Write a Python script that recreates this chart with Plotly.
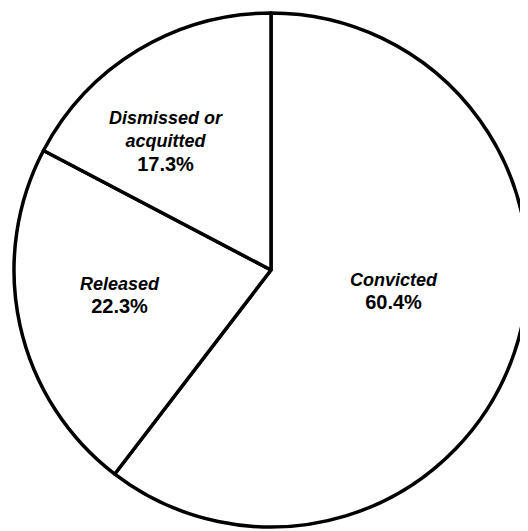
import plotly.graph_objects as go

# Case outcomes (percent)
labels = ["Convicted", "Released", "Dismissed or<br>acquitted"]
values = [60.4, 22.3, 17.3]

# label placement in paper coords
label_x = [0.731, 0.212, 0.299]
label_y = [0.466, 0.459, 0.748]

W, H = 528, 531
cx, cy, r = 263, 269, 257  # pixel centre (from bottom) and radius

fig = go.Figure(go.Pie(
    labels=labels,
    values=values,
    sort=False,
    direction="clockwise",
    rotation=0,
    textinfo="none",
    hoverinfo="label+percent",
    marker=dict(colors=["white"] * 3, line=dict(color="black", width=3.5)),
    domain=dict(x=[(cx - r) / W, (cx + r) / W], y=[(cy - r) / H, (cy + r) / H]),
    showlegend=False,
))

for lab, val, x, y in zip(labels, values, label_x, label_y):
    fig.add_annotation(
        x=x, y=y, xref="paper", yref="paper",
        xanchor="center", yanchor="middle",
        text=f"<b><i>{lab}</i><br><span style='font-size:20px'>{val}%</span></b>",
        showarrow=False, align="center",
        font=dict(family="Liberation Sans, Arial, sans-serif", size=18, color="black"),
    )

fig.update_layout(
    width=W, height=H,
    margin=dict(l=0, r=0, t=0, b=0),
    paper_bgcolor="white", plot_bgcolor="white",
)

fig.write_html("out.html")
